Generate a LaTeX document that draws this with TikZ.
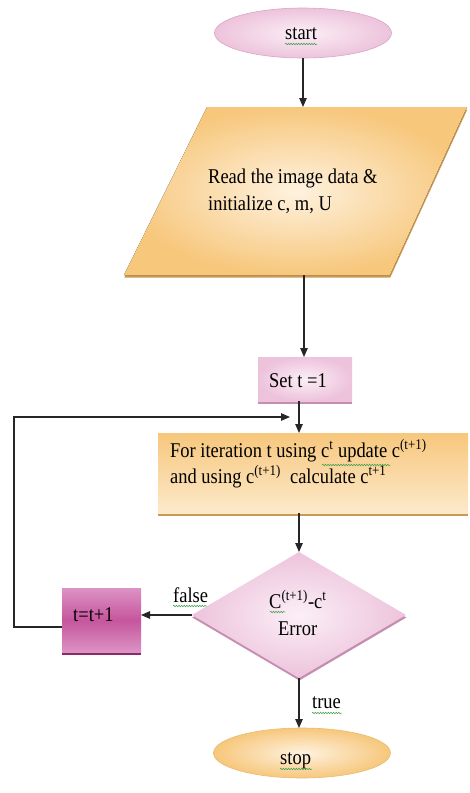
\documentclass[tikz,border=0pt]{standalone}
\usepackage{fontspec}
\setmainfont{Liberation Serif}[FakeStretch=0.88]
\usetikzlibrary{arrows.meta,shapes.geometric,shadows,decorations.pathmorphing,calc}

\definecolor{pinkedge}{HTML}{EDC3DC}
\definecolor{pinklight}{HTML}{FBEFF6}
\definecolor{pinkrim}{HTML}{D9A6C5}
\definecolor{pinkshade}{HTML}{C58DB0}
\definecolor{orangeedge}{HTML}{F7C77C}
\definecolor{orangelight}{HTML}{FEF2DF}
\definecolor{orangeshade}{HTML}{C99A55}
\definecolor{magdark}{HTML}{C6559D}
\definecolor{maglight}{HTML}{DC93C4}
\definecolor{magshade}{HTML}{8C2C66}
\definecolor{spellgreen}{HTML}{3C9F48}

\tikzset{
  shapebox/.style={inner sep=0pt, outer sep=0pt},
  terminal/.style={shapebox, ellipse, minimum width=177pt, minimum height=50pt},
  lbl/.style={inner sep=0pt, anchor=base west},
  flow/.style={draw=black!85, line width=1.1pt, -{Triangle[length=9pt,width=7.5pt]}},
  loopline/.style={draw=black!85, line width=1.1pt},
  pinkfill/.style={inner color=pinklight, outer color=pinkedge},
  orangefill/.style={inner color=orangelight, outer color=orangeedge},
  bevel/.style={general shadow={fill=#1, shadow yshift=-2.5pt, shadow xshift=0.3pt}},
  squiggle/.style={draw=spellgreen, line width=0.5pt,
    decorate, decoration={snake, segment length=2.6pt, amplitude=0.8pt}},
}

\begin{document}
\begin{tikzpicture}[x=1pt, y=-1pt, font=\fontsize{21}{27}\selectfont]
\useasboundingbox (0,0) rectangle (470,793);

% start terminal
\node[terminal, pinkfill, draw=pinkrim, line width=0.6pt] (start) at (303,33) {};
\node[lbl] (starttxt) at (285,39) {start};

% input parallelogram (anchors from an invisible box)
\node[shapebox, minimum width=170pt, minimum height=168pt] (read) at (304,191) {};
\fill[orangefill, bevel=orangeshade] (207,107) -- (467,107) -- (390,275) -- (124,275) -- cycle;
\node[lbl] (readA) at (208,183) {Read the image data \&};
\node[lbl] (readB) at (208,210) {initialize c, m, U};

% initialisation box
\node[shapebox, rectangle, minimum width=94pt, minimum height=44pt,
      pinkfill, bevel=pinkshade] (set) at (305,379) {};
\node[lbl] (settxt) at (269,387) {Set t =1};

% iteration box
\node[shapebox, rectangle, minimum width=310pt, minimum height=80pt,
      top color=orangeedge, bottom color=orangelight!80!orangeedge,
      bevel=orangeshade] (iter) at (313,473) {};
\node[lbl] (iterA) at (170,457) {For iteration t using c\textsuperscript{t} update c\textsuperscript{(t+1)}};
\node[lbl] (iterB) at (170,483) {and using c\textsuperscript{(t+1)}\ \ calculate c\textsuperscript{t+1}};

% decision
\node[shapebox, diamond, aspect=1.7, minimum width=214pt, minimum height=126pt,
      pinkfill, bevel=pinkshade] (cond) at (299,615) {};
\node[lbl] (condA) at (269,608) {C\textsuperscript{(t+1)}-c\textsuperscript{t}};
\node[lbl] (condB) at (278,635) {Error};

% increment box
\node[shapebox, rectangle, minimum width=79pt, minimum height=64pt,
      top color=maglight, bottom color=maglight, middle color=magdark,
      bevel=magshade] (tbox) at (101.5,620) {};
\node[lbl] (tboxtxt) at (73,621) {t=t+1};

% stop terminal
\node[terminal, inner color=orangelight, outer color=orangeedge,
      draw=orangeedge!80!black!30!orangeedge, line width=0.6pt] (stop) at (302,753) {};
\node[lbl] (stoptxt) at (280,764) {stop};

% branch labels
\node[lbl] (falsetxt) at (173,602) {false};
\node[lbl] (truetxt) at (312,708) {true};

% connectors
\coordinate (join) at (290,417);
\draw[flow] (start.south) -- (start.south |- read.north);
\draw[flow] (read.south) -- (read.south |- set.north);
\draw[flow] (set.south -| cond.north) -- (cond.north |- iter.north);
\draw[flow] (iter.south -| cond.north) -- (cond.north);
\draw[flow] (cond.west) -- (cond.west -| tbox.east);
\draw[flow] (cond.south) -- (cond.south |- stop.north);
\draw[loopline, -{Triangle[length=9pt,width=7.5pt]}]
  ($(tbox.west)+(0,7)$) -- (14,627) -- (14,417) -- (join);

% spell-check underlines
\draw[squiggle] (285,44) -- (317,44);
\draw[squiggle] (322,465) -- (390,465);
\draw[squiggle] (173,606) -- (207,606);
\draw[squiggle] (270,612) -- (285,612);
\draw[squiggle] (312,713) -- (342,713);
\draw[squiggle] (280,769) -- (312,769);
\end{tikzpicture}
\end{document}
